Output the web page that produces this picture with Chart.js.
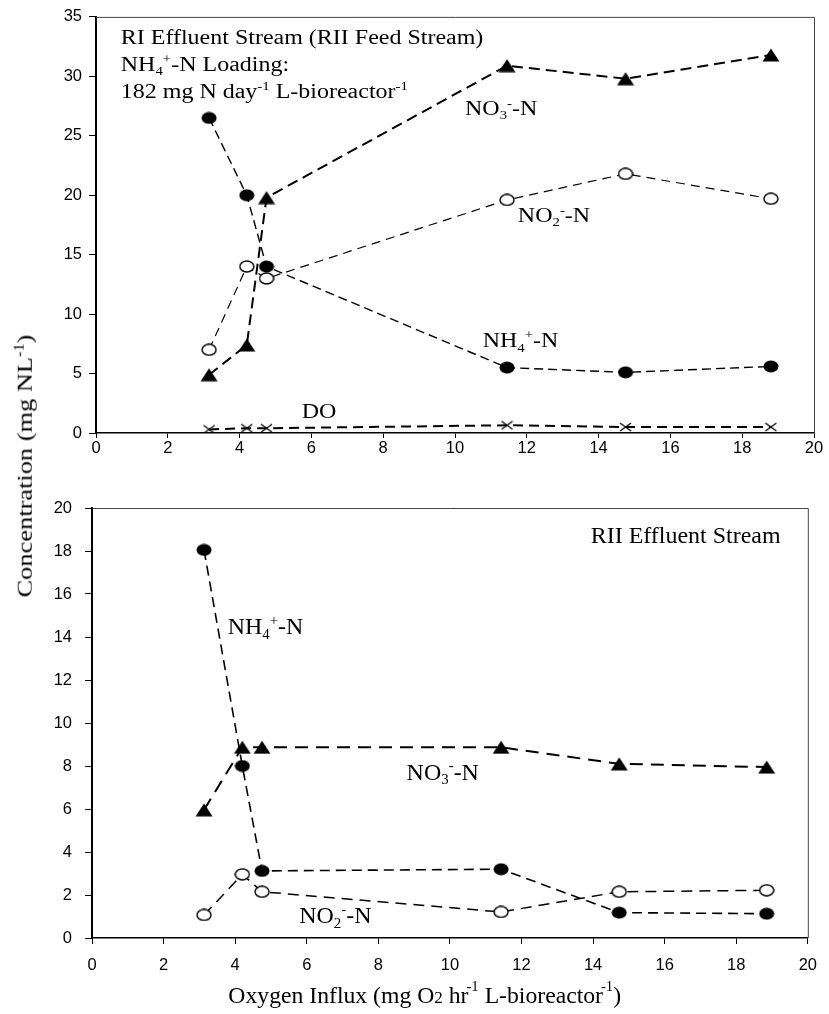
<!DOCTYPE html>
<html>
<head>
<meta charset="utf-8">
<script src="https://cdn.jsdelivr.net/npm/chart.js@4.4.1/dist/chart.umd.min.js"></script>
<style>
    html, body { margin: 0; padding: 0; background: #fff; }
    #wrap { position: relative; width: 829px; height: 1014px; overflow: hidden; }
    #topChart { position: absolute; left: 0; top: 0; }
    #bottomChart { position: absolute; left: 0; top: 470px; }
    #ytitle {
        position: absolute; left: 24px; top: 466px; white-space: nowrap;
        font: 22px "Liberation Serif", "Times New Roman", serif; line-height: 1;
        transform: translate(-50%, -50%) rotate(-90deg) scaleX(1.2);
    }
    #ytitle sup { font-size: 0.62em; vertical-align: 0.55em; }
</style>
</head>
<body>
<div id="wrap">
    <canvas id="topChart" width="829" height="470"></canvas>
    <canvas id="bottomChart" width="829" height="544"></canvas>
    <div id="ytitle">Concentration (mg NL<sup>-1</sup>)</div>
</div>
<script>
// Panel 1: RI effluent stream (RII feed stream)
const topOxygen = [3.15, 4.2, 4.75, 11.45, 14.75, 18.8];
const topNH4 = [26.5, 20.0, 14.0, 5.5, 5.1, 5.6];
const topNO2 = [7.0, 14.0, 13.0, 19.6, 21.8, 19.7];
const topNO3 = [4.9, 7.4, 19.8, 30.9, 29.8, 31.8];
const topDO = [0.3, 0.4, 0.4, 0.65, 0.5, 0.5];

// Panel 2: RII effluent stream
const bottomOxygen = [3.13, 4.2, 4.75, 11.43, 14.73, 18.85];
const bottomNH4 = [18.05, 8.0, 3.12, 3.2, 1.18, 1.13];
const bottomNO3 = [5.96, 8.87, 8.87, 8.87, 8.1, 7.95];
const bottomNO2 = [1.07, 2.96, 2.15, 1.21, 2.15, 2.22];

const xTicks = { min: 0, max: 20, step: 2 };
const topYTicks = { min: 0, max: 35, step: 5 };
const bottomYTicks = { min: 0, max: 20, step: 2 };

// marker images (slightly wider than tall, like the scanned figure)
function makeMarker(w, h, draw) {
    const c = document.createElement("canvas");
    c.width = w; c.height = h;
    draw(c.getContext("2d"), w, h);
    return c;
}
const dot = makeMarker(16, 13, (g, w, h) => {
    g.beginPath(); g.ellipse(w / 2, h / 2, w / 2 - 0.5, h / 2 - 0.5, 0, 0, Math.PI * 2);
    g.fillStyle = "#000"; g.fill();
});
const ring = makeMarker(16, 13, (g, w, h) => {
    g.beginPath(); g.ellipse(w / 2, h / 2, w / 2 - 1, h / 2 - 1, 0, 0, Math.PI * 2);
    g.fillStyle = "#fff"; g.fill();
    g.lineWidth = 1.4; g.strokeStyle = "#000"; g.stroke();
});
const tri = makeMarker(18, 14, (g, w, h) => {
    g.beginPath(); g.moveTo(w / 2, 0.5); g.lineTo(w - 0.5, h - 0.5); g.lineTo(0.5, h - 0.5); g.closePath();
    g.fillStyle = "#000"; g.fill();
});
const cross = makeMarker(13, 10, (g, w, h) => {
    g.beginPath(); g.moveTo(1, 1); g.lineTo(w - 1, h - 1); g.moveTo(w - 1, 1); g.lineTo(1, h - 1);
    g.lineWidth = 1.3; g.strokeStyle = "#000"; g.stroke();
});

function series(xs, ys, marker, width, dash) {
    return {
        data: xs.map((x, i) => ({ x: x, y: ys[i] })),
        borderColor: "#000", borderWidth: width, borderDash: dash,
        pointStyle: marker, pointRadius: 6, tension: 0, fill: false
    };
}

// text with sub/superscripts, stretched horizontally like the original
function drawRich(ctx, parts, px, py, size, stretch, align) {
    const fontOf = kind => {
        const s = kind === "sup" || kind === "sub" ? size * 0.62 : kind === "small" ? size * 0.72 : size;
        return s.toFixed(1) + 'px "Liberation Serif", "Times New Roman", serif';
    };
    ctx.save();
    ctx.translate(px, py);
    ctx.scale(stretch, 1);
    let total = 0;
    parts.forEach(([t, kind, dx = 0]) => { ctx.font = fontOf(kind); total += ctx.measureText(t).width + dx; });
    let cx = align === "right" ? -total : 0;
    parts.forEach(([t, kind, dx = 0, lift]) => {
        ctx.font = fontOf(kind);
        const dy = kind === "sup" ? -size * (lift || 0.4) : kind === "sub" ? size * 0.2 : 0;
        ctx.fillText(t, cx + dx, dy);
        cx += ctx.measureText(t).width + dx;
    });
    ctx.restore();
}

function notesPlugin(notes, size, stretch) {
    return {
        id: "notes",
        afterDraw(chart) {
            const { ctx, chartArea: a, scales } = chart;
            ctx.save();
            // thin frame on top and right
            ctx.strokeStyle = "#444"; ctx.lineWidth = 1;
            ctx.beginPath();
            ctx.moveTo(a.left, a.top + 0.5); ctx.lineTo(a.right + 0.5, a.top + 0.5); ctx.lineTo(a.right + 0.5, a.bottom);
            ctx.stroke();
            ctx.fillStyle = "#000"; ctx.textBaseline = "alphabetic"; ctx.textAlign = "left";
            notes.forEach(n => drawRich(ctx, n.parts, scales.x.getPixelForValue(n.x), scales.y.getPixelForValue(n.y),
                n.size || size, n.stretch || stretch, n.align));
            ctx.restore();
        }
    };
}

const NH4 = [["NH"], ["4", "sub"], ["+", "sup"], ["-N"]];
const NO3 = [["NO"], ["3", "sub"], ["-", "sup"], ["-N"]];
const NO2 = [["NO"], ["2", "sub"], ["-", "sup"], ["-N"]];

const topNotes = [
    { x: 0.69, y: 32.75, parts: [["RI Effluent Stream (RII Feed Stream)"]] },
    { x: 0.69, y: 30.45, parts: NH4.concat([[" Loading:"]]) },
    { x: 0.69, y: 28.2, parts: [["182 mg N day"], ["-1", "sup"], [" L-bioreactor"], ["-1", "sup"]] },
    { x: 10.28, y: 26.75, parts: NO3 },
    { x: 11.75, y: 17.75, parts: NO2 },
    { x: 10.77, y: 7.2, parts: NH4 },
    { x: 5.73, y: 1.22, parts: [["DO"]] }
];
const bottomNotes = [
    { x: 19.24, y: 18.35, parts: [["RII Effluent Stream"]], align: "right" },
    { x: 3.79, y: 14.14, parts: NH4 },
    { x: 8.79, y: 7.37, parts: NO3 },
    { x: 5.79, y: 0.70, parts: NO2 },
    { x: 3.81, y: -3.02, size: 23, stretch: 1.03,
      parts: [["Oxygen Influx (mg O"], ["2", "small"], [" hr"], ["-1", "sup", -2, 0.5], [" L-bioreactor"], ["-1", "sup", -2, 0.5], [")"]] }
];

function panel(canvasId, datasets, yT, geo, notes, noteSize, noteStretch) {
    return new Chart(document.getElementById(canvasId), {
        type: "line",
        data: { datasets: datasets },
        options: {
            responsive: false, animation: false, events: [],
            layout: { padding: { top: geo.top, right: geo.right, left: 0, bottom: 0 } },
            plugins: { legend: { display: false }, tooltip: { enabled: false } },
            scales: {
                x: {
                    type: "linear", min: xTicks.min, max: xTicks.max,
                    ticks: { stepSize: xTicks.step, color: "#000", padding: geo.xPad,
                        font: { family: '"Liberation Sans", Arial, sans-serif', size: geo.tick } },
                    grid: { drawOnChartArea: false, drawTicks: true, tickLength: geo.xTick, color: "#000" },
                    border: { color: "#000", width: 1.5 },
                    afterFit: s => { s.height = geo.xH; }
                },
                y: {
                    min: yT.min, max: yT.max,
                    ticks: { stepSize: yT.step, color: "#000", padding: geo.yPad,
                        font: { family: '"Liberation Sans", Arial, sans-serif', size: geo.tick } },
                    grid: { drawOnChartArea: false, drawTicks: true, tickLength: 7, color: "#000" },
                    border: { color: "#000", width: 2 },
                    afterFit: s => { s.width = geo.yW; }
                }
            }
        },
        plugins: [notesPlugin(notes, noteSize, noteStretch)]
    });
}

panel("topChart", [
    series(topOxygen, topNO2, ring, 1.2, [9, 6]),
    series(topOxygen, topNH4, dot, 1.4, [9, 5]),
    series(topOxygen, topNO3, tri, 2, [11, 6]),
    series(topOxygen, topDO, cross, 2, [10, 6])
], topYTicks, { top: 15, right: 15, yW: 96, xH: 37, xTick: 5, xPad: 1, yPad: 7, tick: 16.5 }, topNotes, 20.5, 1.17);

panel("bottomChart", [
    series(bottomOxygen, bottomNO2, ring, 1.5, [11, 7]),
    series(bottomOxygen, bottomNH4, dot, 1.6, [10, 6]),
    series(bottomOxygen, bottomNO3, tri, 2, [13, 8])
], bottomYTicks, { top: 38, right: 14, yW: 92, xH: 76, xTick: 6, xPad: 12, yPad: 13, tick: 16.5 }, bottomNotes, 23.5, 1.02);
</script>
</body>
</html>
